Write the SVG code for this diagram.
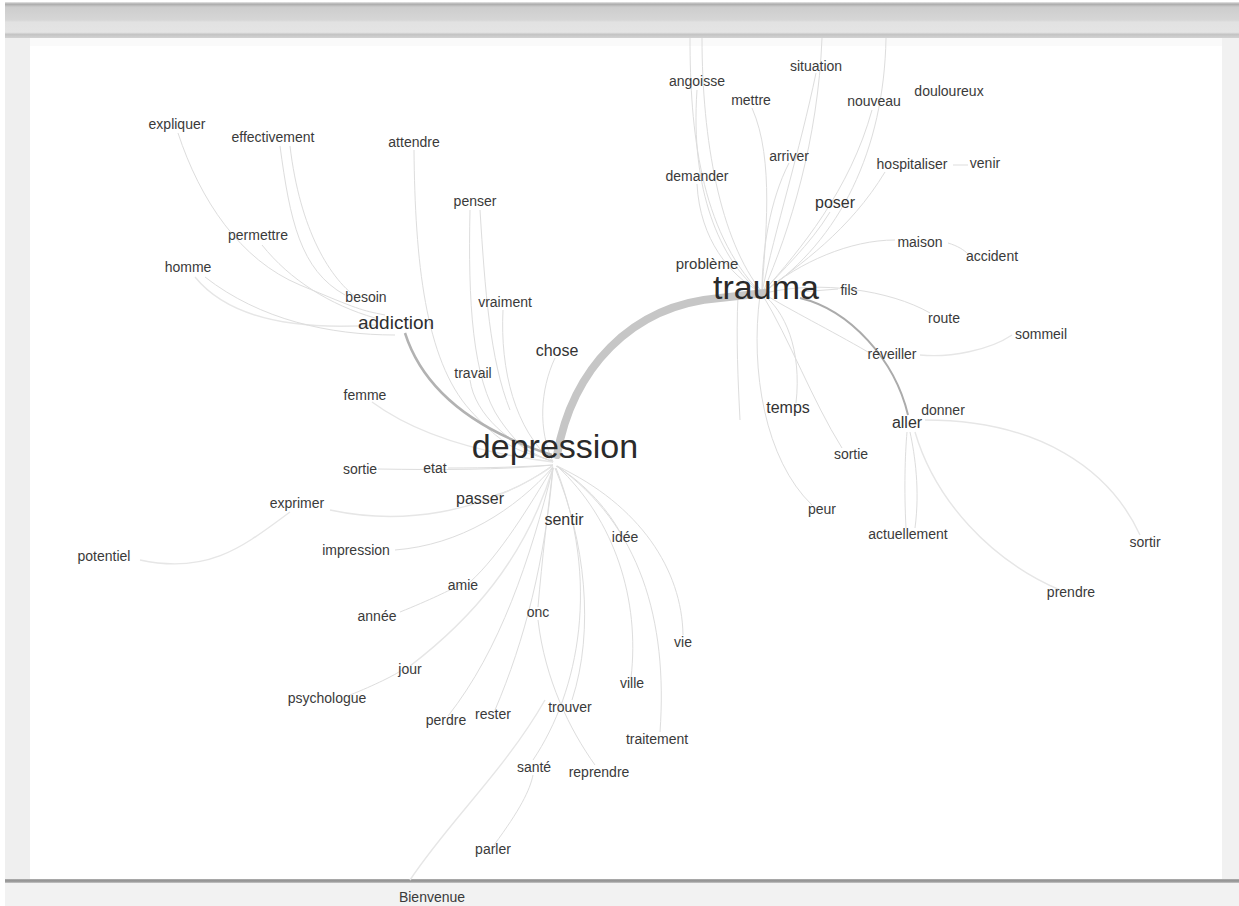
<svg xmlns="http://www.w3.org/2000/svg" width="1239" height="906" viewBox="0 0 1239 906">
<defs>
<linearGradient id="topbar" x1="0" y1="0" x2="0" y2="1">
<stop offset="0" stop-color="#e8e8e8"/>
<stop offset="0.06" stop-color="#ababab"/>
<stop offset="0.14" stop-color="#cdcdcd"/>
<stop offset="0.5" stop-color="#d6d6d6"/>
<stop offset="0.56" stop-color="#e2e2e2"/>
<stop offset="0.84" stop-color="#e4e4e4"/>
<stop offset="0.9" stop-color="#c4c4c4"/>
<stop offset="1" stop-color="#d2d2d2"/>
</linearGradient>
<linearGradient id="botline" x1="0" y1="0" x2="0" y2="1">
<stop offset="0" stop-color="#b0b0b0"/>
<stop offset="0.5" stop-color="#8e8e8e"/>
<stop offset="1" stop-color="#c8c8c8"/>
</linearGradient>
</defs>
<style>
.e{fill:none;stroke:#dddddd;stroke-width:1}
.e2{fill:none;stroke:#e6e6e6;stroke-width:1.4}
.t{font-family:"Liberation Sans",Arial,sans-serif;font-size:14px;fill:#3a3a3a;text-anchor:middle}
.m{font-size:16px;fill:#333}
.l{font-size:19px;fill:#2e2e2e}
.h{font-size:34px;fill:#2a2a2a}
</style>
<rect x="0" y="0" width="1239" height="906" fill="#ffffff"/>
<rect x="5" y="2" width="1234" height="36" fill="url(#topbar)"/>
<rect x="5" y="38" width="25" height="842" fill="#efefef"/>
<rect x="1222" y="38" width="17" height="842" fill="#f1f1f1"/>
<rect x="30" y="38" width="1192" height="8" fill="#fafafa"/>
<rect x="5" y="879" width="1234" height="4" fill="url(#botline)"/>
<rect x="5" y="883" width="1234" height="23" fill="#f2f2f2"/>

<g id="connectors">
<path class="e" d="M178,133 C200,200 240,260 300,285 S360,310 385,315"/>
<path class="e" d="M280,146 C290,220 300,270 345,295"/>
<path class="e" d="M290,146 C300,230 330,280 360,300"/>
<path class="e" d="M262,245 C290,280 330,305 375,318"/>
<path class="e2" d="M195,277 C230,320 300,330 375,325"/>
<path class="e" d="M205,277 C260,320 330,335 395,335"/>
<path class="e" d="M414,150 C415,260 425,360 470,410 S530,450 553,462"/>
<path class="e" d="M470,210 C468,300 472,380 500,420 S540,455 553,462"/>
<path class="e" d="M480,210 C485,290 490,360 510,410"/>
<path class="e" d="M503,310 C500,370 515,430 553,462"/>
<path class="e" d="M555,358 C540,390 538,430 553,462"/>
<path class="e" d="M470,380 C475,415 510,445 553,462"/>
<path class="e2" d="M372,402 C410,430 470,452 553,462"/>
<path class="e" d="M378,469 C440,470 500,470 553,465"/>
<path class="e" d="M448,468 C490,468 520,467 553,465"/>
<path class="e" d="M495,495 C515,490 535,478 553,465"/>
<path class="e2" d="M330,510 C400,525 480,515 553,466"/>
<path class="e2" d="M140,560 C210,575 245,545 290,512"/>
<path class="e" d="M395,550 C460,545 515,510 553,467"/>
<path class="e" d="M470,582 C500,555 530,505 553,467"/>
<path class="e" d="M400,612 C430,600 450,590 460,585"/>
<path class="e2" d="M410,666 C470,620 525,560 553,468"/>
<path class="e" d="M350,695 C375,685 395,675 402,670"/>
<path class="e" d="M538,607 C542,560 548,510 553,468"/>
<path class="e" d="M448,716 C500,650 530,560 553,468"/>
<path class="e" d="M495,710 C525,640 545,560 553,468"/>
<path class="e" d="M572,700 C595,630 585,540 555,468"/>
<path class="e" d="M533,760 C580,690 600,580 556,468"/>
<path class="e" d="M595,765 C570,730 545,680 538,620"/>
<path class="e" d="M494,845 C520,810 530,790 533,775"/>
<path class="e2" d="M410,880 C450,820 505,770 545,700"/>
<path class="e" d="M620,532 C605,505 580,480 556,466"/>
<path class="e" d="M683,635 C682,570 640,505 557,466"/>
<path class="e" d="M631,678 C640,600 615,520 557,466"/>
<path class="e" d="M660,732 C668,620 640,525 557,466"/>
<path class="e" d="M690,38 C690,130 700,230 760,292"/>
<path class="e" d="M702,38 C702,140 720,240 762,292"/>
<path class="e" d="M822,38 C818,140 790,230 763,292"/>
<path class="e" d="M886,38 C884,150 840,240 764,292"/>
<path class="e" d="M697,90 C690,190 720,260 760,292"/>
<path class="e" d="M816,73 C800,150 775,230 762,292"/>
<path class="e" d="M752,108 C775,160 765,240 762,292"/>
<path class="e" d="M872,110 C850,190 800,250 763,292"/>
<path class="e" d="M789,163 C770,200 762,250 762,292"/>
<path class="e" d="M697,184 C700,240 730,275 760,292"/>
<path class="e" d="M885,172 C850,230 800,265 763,292"/>
<path class="e" d="M953,165 L968,165"/>
<path class="e" d="M830,212 C810,245 780,272 763,292"/>
<path class="e" d="M895,240 C850,240 800,262 764,292"/>
<path class="e" d="M948,243 C958,246 964,250 968,254"/>
<path class="e" d="M838,289 L800,292"/>
<path class="e" d="M930,313 C890,290 820,280 765,293"/>
<path class="e2" d="M1012,335 C990,350 950,358 920,355"/>
<path class="e" d="M868,352 C830,330 790,310 764,294"/>
<path class="e" d="M796,403 C802,350 785,310 762,294"/>
<path class="e" d="M842,448 C812,400 790,340 762,294"/>
<path class="e" d="M812,505 C765,460 750,370 760,295"/>
<path class="e" d="M738,295 C736,340 738,380 740,420"/>
<path class="e" d="M906,528 C904,490 905,455 907,432"/>
<path class="e" d="M915,528 C920,490 915,455 910,432"/>
<path class="e2" d="M1140,535 C1110,470 1040,420 925,420"/>
<path class="e2" d="M1060,590 C990,560 935,500 915,432"/>
<path fill="none" stroke="#b2b2b2" stroke-width="2.5" d="M405,333 C420,380 460,425 552,455"/>
<path fill="none" stroke="#ababab" stroke-width="2" d="M800,298 C850,310 895,360 908,415"/>
<path fill="none" stroke="#c6c6c6" stroke-width="8" stroke-linecap="round" d="M557,455 C572,370 630,305 720,298 L765,293"/>
</g>

<g id="n-expliquer"><text class="t" x="177" y="129">expliquer</text></g>
<g id="n-effectivement"><text class="t" x="273" y="142">effectivement</text></g>
<g id="n-attendre"><text class="t" x="414" y="147">attendre</text></g>
<g id="n-penser"><text class="t" x="475" y="206">penser</text></g>
<g id="n-permettre"><text class="t" x="258" y="240">permettre</text></g>
<g id="n-homme"><text class="t" x="188" y="272">homme</text></g>
<g id="n-besoin"><text class="t" x="366" y="302">besoin</text></g>
<g id="n-addiction"><text class="t l" x="396" y="329">addiction</text></g>
<g id="n-vraiment"><text class="t" x="505" y="307">vraiment</text></g>
<g id="n-chose"><text class="t m" x="557" y="356">chose</text></g>
<g id="n-travail"><text class="t" x="473" y="378">travail</text></g>
<g id="n-femme"><text class="t" x="365" y="400">femme</text></g>
<g id="n-depression"><text class="t h" x="555" y="458">depression</text></g>
<g id="n-sortie"><text class="t" x="360" y="474">sortie</text></g>
<g id="n-etat"><text class="t" x="435" y="473">etat</text></g>
<g id="n-passer"><text class="t m" x="480" y="504">passer</text></g>
<g id="n-exprimer"><text class="t" x="297" y="508">exprimer</text></g>
<g id="n-sentir"><text class="t m" x="564" y="525">sentir</text></g>
<g id="n-idee"><text class="t" x="625" y="542">idée</text></g>
<g id="n-potentiel"><text class="t" x="104" y="561">potentiel</text></g>
<g id="n-impression"><text class="t" x="356" y="555">impression</text></g>
<g id="n-amie"><text class="t" x="463" y="590">amie</text></g>
<g id="n-annee"><text class="t" x="377" y="621">année</text></g>
<g id="n-onc"><text class="t" x="538" y="617">onc</text></g>
<g id="n-vie"><text class="t" x="683" y="647">vie</text></g>
<g id="n-jour"><text class="t" x="410" y="674">jour</text></g>
<g id="n-ville"><text class="t" x="632" y="688">ville</text></g>
<g id="n-psychologue"><text class="t" x="327" y="703">psychologue</text></g>
<g id="n-perdre"><text class="t" x="446" y="725">perdre</text></g>
<g id="n-rester"><text class="t" x="493" y="719">rester</text></g>
<g id="n-trouver"><text class="t" x="570" y="712">trouver</text></g>
<g id="n-traitement"><text class="t" x="657" y="744">traitement</text></g>
<g id="n-sante"><text class="t" x="534" y="772">santé</text></g>
<g id="n-reprendre"><text class="t" x="599" y="777">reprendre</text></g>
<g id="n-parler"><text class="t" x="493" y="854">parler</text></g>
<g id="n-bienvenue"><text class="t" x="432" y="902">Bienvenue</text></g>

<g id="n-situation"><text class="t" x="816" y="71">situation</text></g>
<g id="n-angoisse"><text class="t" x="697" y="86">angoisse</text></g>
<g id="n-mettre"><text class="t" x="751" y="105">mettre</text></g>
<g id="n-nouveau"><text class="t" x="874" y="106">nouveau</text></g>
<g id="n-douloureux"><text class="t" x="949" y="96">douloureux</text></g>
<g id="n-arriver"><text class="t" x="789" y="161">arriver</text></g>
<g id="n-demander"><text class="t" x="697" y="181">demander</text></g>
<g id="n-hospitaliser"><text class="t" x="912" y="169">hospitaliser</text></g>
<g id="n-venir"><text class="t" x="985" y="168">venir</text></g>
<g id="n-poser"><text class="t m" x="835" y="208">poser</text></g>
<g id="n-maison"><text class="t" x="920" y="247">maison</text></g>
<g id="n-accident"><text class="t" x="992" y="261">accident</text></g>
<g id="n-probleme"><text class="t" style="font-size:15px" x="707" y="269">problème</text></g>
<g id="n-trauma"><text class="t h" x="766" y="299">trauma</text></g>
<g id="n-fils"><text class="t" x="849" y="295">fils</text></g>
<g id="n-route"><text class="t" x="944" y="323">route</text></g>
<g id="n-sommeil"><text class="t" x="1041" y="339">sommeil</text></g>
<g id="n-reveiller"><text class="t" x="892" y="359">réveiller</text></g>
<g id="n-temps"><text class="t m" x="788" y="413">temps</text></g>
<g id="n-donner"><text class="t" x="943" y="415">donner</text></g>
<g id="n-aller"><text class="t m" x="907" y="428">aller</text></g>
<g id="n-sortie2"><text class="t" x="851" y="459">sortie</text></g>
<g id="n-peur"><text class="t" x="822" y="514">peur</text></g>
<g id="n-actuellement"><text class="t" x="908" y="539">actuellement</text></g>
<g id="n-sortir"><text class="t" x="1145" y="547">sortir</text></g>
<g id="n-prendre"><text class="t" x="1071" y="597">prendre</text></g>
</svg>
